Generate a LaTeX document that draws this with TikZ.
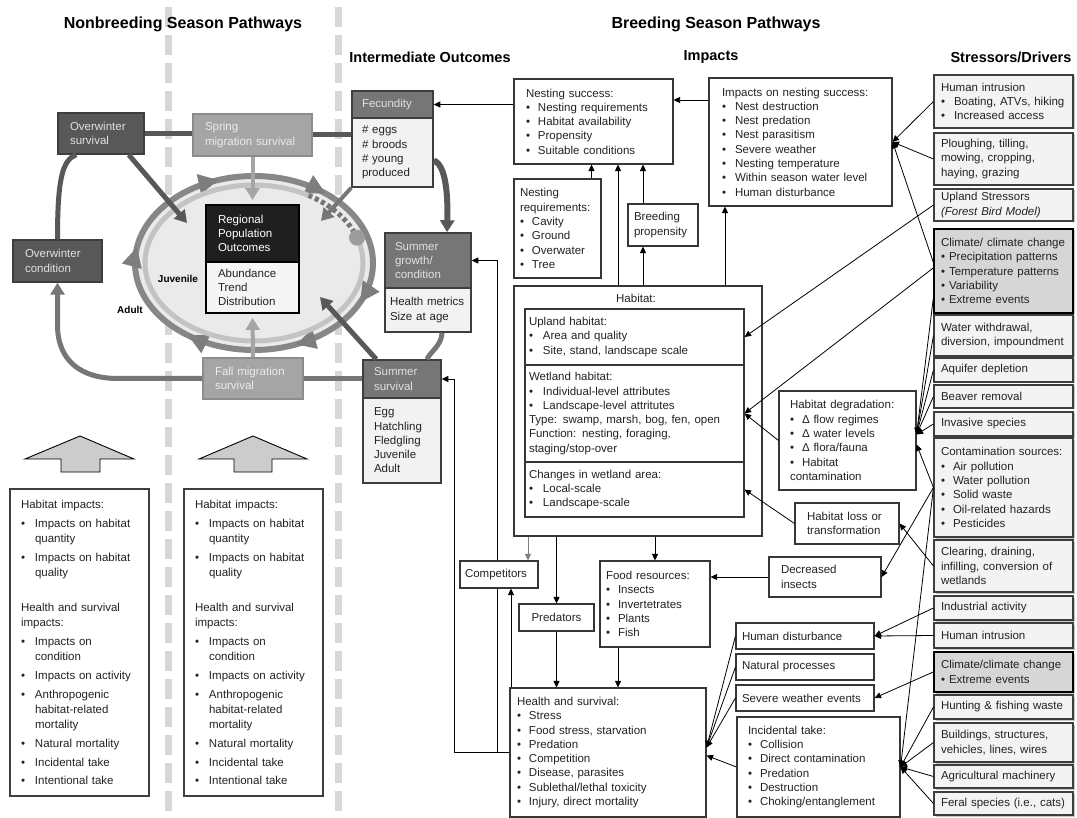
\documentclass[tikz,border=0pt]{standalone}
\usepackage{fontspec}
\setmainfont{Liberation Sans}
\usepackage{tikz}
\usetikzlibrary{arrows.meta, positioning, calc, shadows, decorations.markings}
\definecolor{birdEdge}{RGB}{62,62,62}
\definecolor{birdDark}{RGB}{88,88,88}
\definecolor{birdMid}{RGB}{118,118,118}
\definecolor{birdMig}{RGB}{165,165,165}
\definecolor{birdMigEdge}{RGB}{140,140,140}
\definecolor{birdPale}{RGB}{242,242,242}
\definecolor{birdInk}{RGB}{225,225,225}
\definecolor{ringOut}{RGB}{135,135,135}
\definecolor{ringTip}{RGB}{125,125,125}
\definecolor{ringIn}{RGB}{195,195,195}
\definecolor{ovalFill}{RGB}{234,234,234}
\definecolor{seasonDash}{RGB}{215,215,215}
\definecolor{stressFill}{RGB}{243,243,243}
\definecolor{climFill}{RGB}{214,214,214}
\definecolor{boxLine}{RGB}{55,55,55}
\definecolor{bodyInk}{RGB}{35,35,35}

\newcommand{\boxfont}{\fontsize{11.5}{14.3}\selectfont\parindent=0pt\parskip=0pt\hyphenpenalty=10000\exhyphenpenalty=10000}
\newcommand{\bul}[2][12pt]{\par\hangindent=#1\hangafter=1\noindent\makebox[#1][l]{\textbullet}#2}
\newcommand{\seasonimpacts}{%
  \fontsize{11.5}{15}\selectfont\setlength{\parskip}{4pt}%
  Habitat impacts:%
  \bul[14pt]{Impacts on habitat quantity}%
  \bul[14pt]{Impacts on habitat quality}%
  \par\vspace{16pt}%
  Health and survival impacts:%
  \bul[14pt]{Impacts on condition}%
  \bul[14pt]{Impacts on activity}%
  \bul[14pt]{Anthropogenic habitat-related mortality}%
  \bul[14pt]{Natural mortality}%
  \bul[14pt]{Incidental take}%
  \bul[14pt]{Intentional take}}

\begin{document}
\begin{tikzpicture}[
    x=1pt, y=-1pt,
    cyclebox/.style={draw=birdEdge, fill=birdDark, text=birdInk, line width=1.5pt, align=left, font=\boxfont, inner xsep=12pt, inner ysep=3pt},
    migbox/.style={cyclebox, draw=birdMigEdge, fill=birdMig, text=white!92!black},
    headbox/.style={cyclebox, fill=birdMid, inner xsep=10pt},
    bodybox/.style={cyclebox, fill=birdPale, text=bodyInk, inner xsep=10pt},
    impbox/.style={draw=boxLine, fill=white, line width=1.1pt, align=left, font=\boxfont, text=bodyInk, inner xsep=7pt, inner ysep=3pt},
    stressbox/.style={impbox, draw=birdEdge, fill=stressFill, inner xsep=7pt, inner ysep=2pt, text width=125pt, drop shadow={shadow xshift=1.5pt, shadow yshift=-1.5pt, fill=black!45}},
    climbox/.style={stressbox, draw=black, fill=climFill, line width=1.6pt},
    conn/.style={draw=black, line width=0.8pt, -{Triangle[length=6.5pt,width=6pt]}},
    plainline/.style={draw=black, line width=0.8pt},
    cycline/.style={line width=5pt, draw=birdDark},
    cycarrow/.style={line width=5pt, -{Triangle[length=12pt,width=14pt]}},
    divider/.style={seasonDash, line width=7pt, dash pattern=on 20pt off 8pt},
    blockarrow/.style={draw=black, fill=black!20, line width=0.9pt},
    secTitle/.style={font=\fontsize{16}{18}\selectfont\bfseries},
    colTitle/.style={font=\fontsize{14.5}{16}\selectfont\bfseries},
    ringlabel/.style={font=\fontsize{10}{12}\selectfont\bfseries}
]
\useasboundingbox (0,0) rectangle (1077,818);

% Season dividers
\draw[divider] (168,7) -- (168,818);
\draw[divider] (338,7) -- (338,818);

% Titles
\node (tNon) at (183,24) [secTitle] {Nonbreeding Season Pathways};
\node (tBre) at (716,24) [secTitle] {Breeding Season Pathways};
\node (tInt) at (430,57) [colTitle] {Intermediate Outcomes};
\node (tImp) at (711,57) [colTitle] {Impacts};
\node (tStr) at (1011,57) [colTitle] {Stressors/Drivers};

% Population cycle oval
\fill[ovalFill] (254,263) ellipse [x radius=121, y radius=89];
\draw[ringOut, line width=6pt, postaction={decorate}, decoration={markings,
    mark=at position 0.065 with {\arrow[ringTip]{Triangle[length=20pt,width=19pt]}},
    mark=at position 0.185 with {\arrow[ringTip]{Triangle[length=20pt,width=19pt]}},
    mark=at position 0.355 with {\arrow[ringTip]{Triangle[length=20pt,width=19pt]}},
    mark=at position 0.525 with {\arrow[ringTip]{Triangle[length=20pt,width=19pt]}},
    mark=at position 0.695 with {\arrow[ringTip]{Triangle[length=20pt,width=19pt]}},
    mark=at position 0.865 with {\arrow[ringTip]{Triangle[length=20pt,width=19pt]}}}]
  plot[domain=0:360, samples=145] ({254+119*cos(\x)}, {263+87*sin(\x)}) -- cycle;
\draw[ringIn, line width=5pt] plot[domain=341:660, samples=130] ({254+109*cos(\x)}, {263+78*sin(\x)});
\draw[birdMid, line width=5pt, dash pattern=on 4pt off 3pt] plot[domain=300:338, samples=20] ({254+109*cos(\x)}, {263+78*sin(\x)});
\fill[ringIn!80!black] (357,237.6) circle [radius=8];
\node (juv) at (178,279) [ringlabel] {Juvenile};
\node (adu) at (130,310) [ringlabel] {Adult};

% Nonbreeding cycle
\node (ows) [cyclebox, text width=62pt, minimum height=41pt] at (101,133.5) {Overwinter\\survival};
\node (spr) [migbox, text width=95pt, minimum height=42pt] at (252.5,135) {Spring\\migration survival};
\node (owc) [cyclebox, text width=65pt, minimum height=42pt] at (57.5,261) {Overwinter\\condition};
\node (fall) [migbox, text width=76pt, minimum height=41pt] at (253,378.5) {Fall migration\\survival};
\node (regH) [cyclebox, fill=black!88, draw=black, text=white, line width=2pt, text width=69pt, minimum height=57pt] at (252.5,233.5) {Regional\\Population\\Outcomes};
\node (regB) [bodybox, draw=black, line width=2pt, fill=white!96!black, inner xsep=12pt, text width=69pt, minimum height=51pt] at (252.5,287.5) {Abundance\\Trend\\Distribution};

% Breeding outcomes
\node (fecH) [headbox, text width=61pt, minimum height=27pt] at (392.5,104.5) {Fecundity};
\node (fecB) [bodybox, text width=61pt, minimum height=69pt] at (392.5,152.5) {\# eggs\\\# broods\\\# young\\produced};
\node (sgH) [headbox, text width=66pt, minimum height=55pt] at (428,260.5) {Summer\\growth/\\condition};
\node (sgB) [bodybox, inner xsep=5pt, text width=76pt, minimum height=44pt] at (428,310) {Health metrics\\Size at age};
\node (ssH) [headbox, inner xsep=11pt, text width=56pt, minimum height=38pt] at (402,379) {Summer\\survival};
\node (ssB) [bodybox, inner xsep=11pt, text width=56pt, minimum height=85pt] at (402,440.5) {Egg\\Hatchling\\Fledgling\\Juvenile\\Adult};

% Cycle links
\draw[cycline] (ows.east) -- (ows.east -| spr.west);
\draw[cycline] (spr.east) -- (spr.east -| fecB.west);
\draw[cycline] (owc.north) .. controls (57.5,180) and (62,160) .. ([xshift=19pt]ows.south west);
\draw[cycline, cycarrow, line width=6pt] ([yshift=-8pt]fecB.east) .. controls (446,165) and (448,195) .. ([xshift=19pt]sgH.north);
\draw[cycline, draw=birdMid] ([xshift=14pt]sgB.south) .. controls (442,345) and (430,352) .. ([xshift=25pt]ssH.north);
\draw[cycline, draw=birdMid] (ssH.west) -- (ssH.west -| fall.east);
\draw[cycline, draw=birdMid, cycarrow] (fall.west) -- (118,378.5) .. controls (80,378.5) and (57.5,360) .. (57.5,325) -- (owc.south);

% Arrows into the oval
\coordinate (ovNW) at (187,223);
\coordinate (ovNE) at (321,221);
\coordinate (ovSE) at (320,297);
\draw[cycarrow, birdDark] ([xshift=-16pt]ows.south east) -- (ovNW);
\draw[cycarrow, birdMig, line width=4pt, shorten >=4pt] (spr.south) -- (regH.north);
\draw[cycarrow, birdMid, line width=4pt] (fecB.south west) -- (ovNE);
\draw[cycarrow, birdDark] ([xshift=14pt]ssH.north west) -- (ovSE);
\draw[cycarrow, birdMig, line width=4pt, shorten >=4pt] (fall.north) -- (regB.south);

% Block arrows
\draw[blockarrow] (25,459) -- (80,436) -- (134,459) -- (100,459) -- (100,472) -- (61,472) -- (61,459) -- cycle;
\draw[blockarrow] (199,459) -- (253,436) -- (307,459) -- (272,459) -- (272,472) -- (234,472) -- (234,459) -- cycle;

% Nonbreeding impacts
\node (nbImp) [impbox, draw=birdEdge, inner xsep=11pt, text width=117pt, minimum height=307pt] at (79.5,642.5) {\seasonimpacts};
\node (miImp) [impbox, draw=birdEdge, inner xsep=11pt, text width=117pt, minimum height=307pt] at (253.5,642.5) {\seasonimpacts};

% Nesting
\node (nestS) [impbox, inner xsep=12pt, text width=135pt, minimum height=85pt] at (593.5,121.5) {Nesting success:\bul{Nesting requirements}\bul{Habitat availability}\bul{Propensity}\bul{Suitable conditions}};
\node (impN) [impbox, inner xsep=13pt, text width=157pt, minimum height=128pt] at (800.5,142) {Impacts on nesting success:\bul[13pt]{Nest destruction}\bul[13pt]{Nest predation}\bul[13pt]{Nest parasitism}\bul[13pt]{Severe weather}\bul[13pt]{Nesting temperature}\bul[13pt]{Within season water level}\bul[13pt]{Human disturbance}};
\node (nestR) [impbox, inner xsep=6pt, text width=75pt, minimum height=99pt] at (557.5,228.5) {Nesting requirements:\bul{Cavity}\bul{Ground}\bul{Overwater}\bul{Tree}};
\node (breedP) [impbox, inner xsep=6pt, text width=58pt, minimum height=42pt] at (663,225) {Breeding\\propensity};

% Habitat
\node (habitat) [impbox, minimum width=248pt, minimum height=250pt] at (638,411) {};
\node (habT) at (636,298) [font=\boxfont, text=bodyInk] {Habitat:};
\node (uphab) [impbox, inner xsep=4pt, text width=211pt, minimum height=56pt] at (634.5,337) {Upland habitat:\bul[14pt]{Area and quality}\bul[14pt]{Site, stand, landscape scale}};
\node (wethab) [impbox, inner xsep=4pt, text width=211pt, minimum height=97pt] at (634.5,413.5) {Wetland habitat:\bul[14pt]{Individual-level attributes}\bul[14pt]{Landscape-level attritutes}\par Type: swamp, marsh, bog, fen, open\par Function: nesting, foraging,\\staging/stop-over};
\node (chhab) [impbox, inner xsep=4pt, text width=211pt, minimum height=55pt] at (634.5,489.5) {Changes in wetland area:\bul[14pt]{Local-scale}\bul[14pt]{Landscape-scale}};
\node (hdeg) [impbox, inner xsep=11pt, text width=115pt, minimum height=99pt] at (847.5,440.5) {Habitat degradation:\bul{Δ flow regimes}\bul{Δ water levels}\bul{Δ flora/fauna}\bul{Habitat contamination}};
\node (hloss) [impbox, inner xsep=12pt, text width=80pt, minimum height=41pt] at (847,523.5) {Habitat loss or\\transformation};

% Food, competition and survival
\node (dins) [impbox, inner xsep=12pt, text width=88pt, minimum height=40pt] at (825,577) {Decreased\\insects};
\node (comp) [impbox, inner xsep=5pt, text width=68pt, minimum height=27pt] at (499,574.5) {Competitors};
\node (food) [impbox, inner xsep=6pt, text width=98pt, minimum height=86pt] at (655,604) {Food resources:\bul{Insects}\bul{Invertetrates}\bul{Plants}\bul{Fish}};
\node (pred) [impbox, align=center, inner xsep=8pt, text width=59pt, minimum height=27pt] at (556.5,617.5) {Predators};
\node (health) [impbox, inner xsep=7pt, text width=182pt, minimum height=129pt] at (608,752.5) {Health and survival:\bul{Stress}\bul{Food stress, starvation}\bul{Predation}\bul{Competition}\bul{Disease, parasites}\bul{Sublethal/lethal toxicity}\bul{Injury, direct mortality}};
\node (hdist) [impbox, inner xsep=6pt, text width=126pt, minimum height=26pt] at (805,636) {Human disturbance};
\node (natp) [impbox, inner xsep=6pt, text width=126pt, minimum height=26pt] at (805,667) {Natural processes};
\node (sevw) [impbox, inner xsep=6pt, text width=126pt, minimum height=26pt] at (805,698) {Severe weather events};
\node (inct) [impbox, inner xsep=11pt, text width=141pt, minimum height=100pt] at (818.5,767) {Incidental take:\bul{Collision}\bul{Direct contamination}\bul{Predation}\bul{Destruction}\bul{Choking/entanglement}};

% Stressors and drivers
\node (sHum) [stressbox, minimum height=53pt] at (1003.5,101.5) {Human intrusion\bul[13pt]{Boating, ATVs, hiking}\bul[13pt]{Increased access}};
\node (sPlough) [stressbox, minimum height=52pt] at (1003.5,159) {Ploughing, tilling,\\mowing, cropping,\\haying, grazing};
\node (sUpland) [stressbox, minimum height=32pt] at (1003.5,205) {Upland Stressors\\\textit{(Forest Bird Model)}};
\node (sClim) [climbox, minimum height=84pt] at (1003.5,271) {Climate/ climate change\bul[8pt]{Precipitation patterns}\bul[8pt]{Temperature patterns}\bul[8pt]{Variability}\bul[8pt]{Extreme events}};
\node (sWater) [stressbox, minimum height=41pt] at (1003.5,335.5) {Water withdrawal,\\diversion, impoundment};
\node (sAquif) [stressbox, minimum height=24pt] at (1003.5,370) {Aquifer depletion};
\node (sBeaver) [stressbox, minimum height=23pt] at (1003.5,396.5) {Beaver removal};
\node (sInvas) [stressbox, minimum height=24pt] at (1003.5,424) {Invasive species};
\node (sContam) [stressbox, minimum height=99pt] at (1003.5,487.5) {Contamination sources:\bul{Air pollution}\bul{Water pollution}\bul{Solid waste}\bul{Oil-related hazards}\bul{Pesticides}};
\node (sClear) [stressbox, minimum height=52pt] at (1003.5,566) {Clearing, draining,\\infilling, conversion of\\wetlands};
\node (sIndus) [stressbox, minimum height=24pt] at (1003.5,608) {Industrial activity};
\node (sHum2) [stressbox, minimum height=25pt] at (1003.5,635.5) {Human intrusion};
\node (sClim2) [climbox, minimum height=40pt] at (1003.5,672) {Climate/climate change\bul[8pt]{Extreme events}};
\node (sHunt) [stressbox, minimum height=24pt] at (1003.5,707) {Hunting \& fishing waste};
\node (sBuild) [stressbox, minimum height=39pt] at (1003.5,742.5) {Buildings, structures,\\vehicles, lines, wires};
\node (sAgri) [stressbox, minimum height=23pt] at (1003.5,776.5) {Agricultural machinery};
\node (sFeral) [stressbox, minimum height=23pt] at (1003.5,803.5) {Feral species (i.e., cats)};

% Nesting links
\coordinate (nrTop) at ([xshift=34pt]nestR.north);
\coordinate (habA) at ([xshift=-20pt]habitat.north);
\coordinate (bpTop) at ([xshift=-20pt]breedP.north);
\coordinate (habB) at ([xshift=5pt]habitat.north);
\coordinate (habC) at ([xshift=87pt]habitat.north);
\coordinate (inA) at ([yshift=42pt]impN.west);
\draw[conn] (nestS.west |- fecH.east) -- (fecH.east);
\draw[conn] (inA) -- (inA -| nestS.east);
\draw[conn] (nrTop) -- (nrTop |- nestS.south);
\draw[conn] (habA) -- (habA |- nestS.south);
\draw[conn] (bpTop) -- (bpTop |- nestS.south);
\draw[conn] (habB) -- (habB |- breedP.south);
\draw[conn] (habC) -- (habC |- impN.south);

% Habitat to food and survival
\coordinate (cpIn) at ([xshift=29pt]comp.north);
\coordinate (cpUp) at ([xshift=12pt]comp.south);
\coordinate (cpDn) at ([xshift=-2pt]comp.south);
\coordinate (cpTop) at ([xshift=-2pt]comp.north);
\coordinate (fdOut) at ([xshift=-37pt]food.south);
\draw[conn, draw=gray] (cpIn |- habitat.south) -- (cpIn);
\draw[conn] (pred.north |- habitat.south) -- (pred.north);
\draw[conn] (food.north |- habitat.south) -- (food.north);
\draw[conn] (dins.west) -- (dins.west -| food.east);
\draw[conn] (pred.south) -- (pred.south |- health.north);
\draw[conn] (fdOut) -- (fdOut |- health.north);
\draw[conn] (cpUp |- health.north) -- (cpUp);
\draw[plainline] (health.west) -| (cpDn);
\draw[conn] (cpTop) |- (sgH.east);
\draw[conn] (health.west) -- ++(-55,0) |- (ssH.east);

% Stressor links
\draw[conn] (sHum.west) -- (impN.east);
\draw[conn] (sPlough.west) -- (impN.east);
\draw[conn] ([yshift=9pt]sClim.west) -- (impN.east);
\draw[conn] (sUpland.west) -- (uphab.east);
\draw[conn] ([yshift=3pt]sClim.west) -- (wethab.east);
\draw[conn] (hdeg.west) -- (wethab.east);
\draw[conn] (hloss.west) -- (chhab.east);
\coordinate (hdIn) at ([yshift=6pt]hdeg.east);
\draw[conn] ([yshift=-28pt]sClim.west) -- (hdIn);
\draw[conn] (sWater.west) -- (hdIn);
\draw[conn] (sAquif.west) -- (hdIn);
\draw[conn] (sBeaver.west) -- (hdIn);
\draw[conn] (sInvas.west) -- (hdIn);
\draw[conn] (sContam.west) -- ([yshift=-4pt]hdeg.east);
\draw[conn] (sContam.west) -- (dins.east);
\draw[conn] (sContam.west) -- (inct.east);
\draw[conn] (sClear.west) -- (hloss.east);
\draw[conn] (sIndus.west) -- (hdist.east);
\draw[conn] (sHum2.west) -- (hdist.east);
\draw[conn] (sClim2.west) -- (sevw.east);
\draw[conn] (sHunt.west) -- (inct.east);
\draw[conn] (sBuild.west) -- (inct.east);
\draw[conn] (sAgri.west) -- (inct.east);
\draw[conn] (sFeral.west) -- (inct.east);
\draw[conn] (hdist.west) -- ([yshift=5pt]health.east);
\draw[conn] (natp.west) -- ([yshift=5pt]health.east);
\draw[conn] (sevw.west) -- ([yshift=5pt]health.east);
\draw[conn] (inct.west) -- ([yshift=-3pt]health.east);

\end{tikzpicture}
\end{document}
